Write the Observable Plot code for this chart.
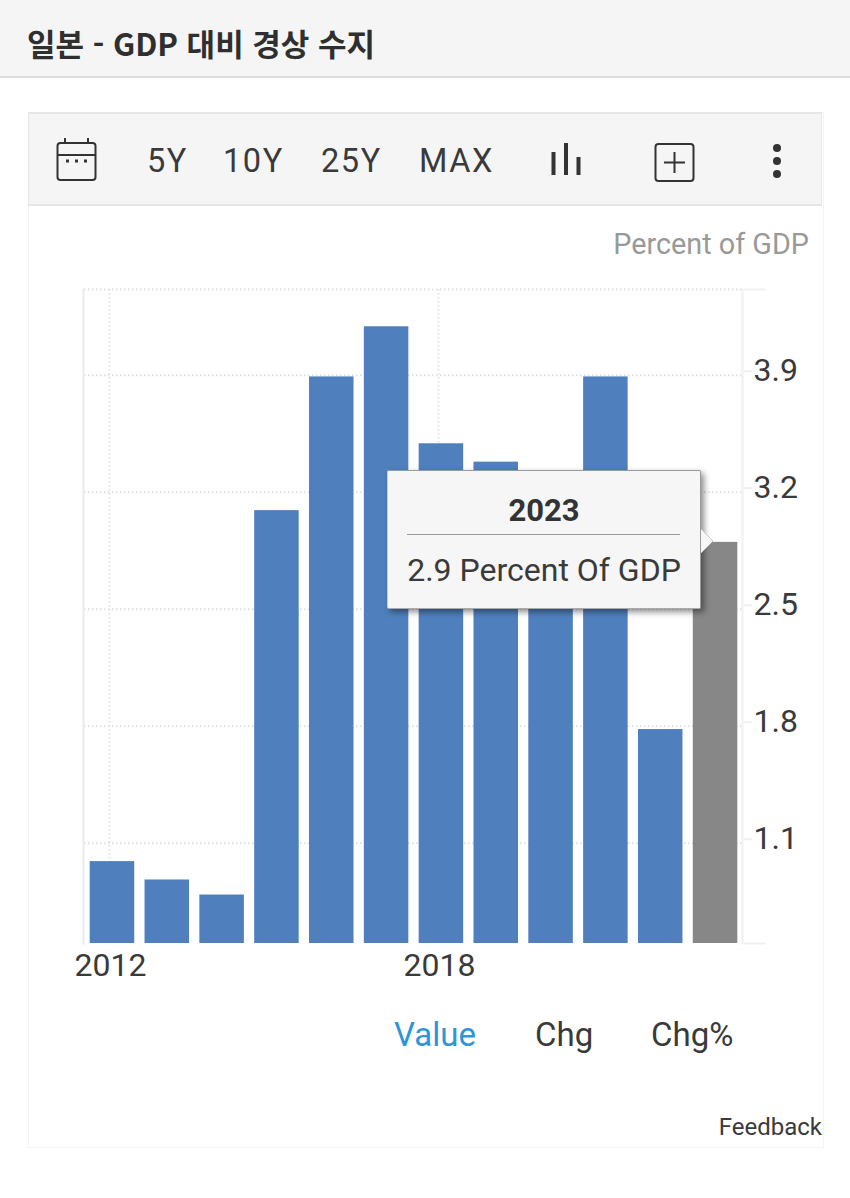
<!DOCTYPE html>
<html lang="ko">
<head>
<meta charset="utf-8">
<script src="https://cdn.jsdelivr.net/npm/d3@7"></script>
<script src="https://cdn.jsdelivr.net/npm/@observablehq/plot@0.6"></script>
<style>
html,body{margin:0;padding:0;background:#fff}
#page{position:relative;width:850px;height:1198px;overflow:hidden;background:#fff;font-family:Roboto,"Noto Sans CJK KR",sans-serif;color:#333}
.abs{position:absolute;white-space:nowrap;line-height:1}
#header{position:absolute;left:0;top:0;width:850px;height:76px;background:#f5f5f5;border-bottom:2px solid #dcdcdc}
#title{left:27px;top:24px;font-family:"Noto Sans CJK KR",sans-serif;font-weight:700;font-size:31px;color:#2f2f2f;line-height:38px}
#panel{position:absolute;left:28px;top:112px;width:794px;height:1034px;border:1px solid #f4f4f4;box-sizing:content-box}
#toolbar{position:absolute;left:28px;top:112px;width:794px;background:#f5f5f5;border:1px solid #e6e6e6;border-top-width:2px;border-bottom-width:2px;box-sizing:border-box;height:94px}
.tb{font-size:32.500px;letter-spacing:1.600px;color:#3a3a3a;top:145px}
#chart{position:absolute;left:0;top:260px}
#chart svg{display:block;background:transparent;overflow:visible}
#tip{position:absolute;left:387px;top:470px;width:314px;height:139px;background:#f6f6f6;border:1px solid #9a9a9a;border-left-color:#ccc;border-bottom-color:#aaa;box-sizing:border-box;border-radius:2px;box-shadow:3px 3px 6px rgba(0,0,0,.45)}
#arrow{position:absolute;left:700px;top:528px}
</style>
</head>
<body>
<div id="page">
  <div id="header"></div>
  <div id="title" class="abs">일본 - GDP 대비 경상 수지</div>
  <div id="panel"></div>
  <div id="toolbar"></div>
  <svg class="abs" style="left:0;top:0" width="850" height="210" fill="none" stroke="#333">
    <rect x="57.500" y="143" width="38" height="37" rx="3" stroke-width="2"/>
    <path d="M58 155H95M65 138v6M88 138v6" stroke-width="2"/>
    <path d="M66 161h3M75 161h3M84 161h3" stroke-width="3"/>
    <path d="M553.500 152v23M566 143v32M578.500 157v18" stroke-width="4"/>
    <rect x="655.500" y="144" width="38" height="37" rx="3" stroke-width="2"/>
    <path d="M674.500 152v21M664 162.500h21" stroke-width="2"/>
    <g fill="#333" stroke="none"><circle cx="777" cy="148" r="4"/><circle cx="777" cy="161" r="4"/><circle cx="777" cy="174" r="4"/></g>
  </svg>
  <div class="abs tb" style="left:147px">5Y</div>
  <div class="abs tb" style="left:223px">10Y</div>
  <div class="abs tb" style="left:321px">25Y</div>
  <div class="abs tb" style="left:419px">MAX</div>
  <div class="abs" style="right:41px;top:230px;font-size:28.800px;color:#999">Percent of GDP</div>
  <div id="chart"></div>
  <div id="tip"></div>
  <svg id="arrow" class="abs" width="16" height="28"><path d="M1 1L13 13L1 25" fill="#f6f6f6" stroke="#c8c8c8" stroke-width="1"/></svg>
  <div class="abs" style="left:387px;width:314px;text-align:center;top:495px;font-size:31px;font-weight:700;color:#333">2023</div>
  <div class="abs" style="left:407px;top:534px;width:273px;height:1px;background:#999"></div>
  <div class="abs" style="left:387px;width:314px;text-align:center;top:554px;font-size:32px;color:#3a3a3a">2.9 Percent Of GDP</div>
  <div class="abs" style="left:394px;top:1018px;font-size:33px;color:#2e96d8">Value</div>
  <div class="abs" style="left:535px;top:1018px;font-size:33px;color:#3a3a3a">Chg</div>
  <div class="abs" style="left:651px;top:1018px;font-size:33px;color:#3a3a3a">Chg%</div>
  <div class="abs" style="right:28px;top:1115px;font-size:24px;color:#3a3a3a">Feedback</div>
</div>
<script>
const years = ["2012","2013","2014","2015","2016","2017","2018","2019","2020","2021","2022","2023"];
const values = [0.99,0.88,0.79,3.09,3.89,4.19,3.49,3.38,3.0,3.89,1.78,2.9];
const selectedYear = "2023";
const xTickLabels = ["2012","2018"];
const yTicks = [1.1,1.8,2.5,3.2,3.9];
const yDomain = [0.5,4.413];
const unit = "Percent of GDP";

const rows = years.map((year,i)=>({year,value:values[i]}));
const chart = Plot.plot({
  width:850, height:730,
  marginTop:29, marginBottom:47, marginLeft:84, marginRight:107,
  style:{background:"transparent",fontFamily:"Roboto, sans-serif"},
  x:{type:"band",domain:years,round:false,paddingInner:0.188,paddingOuter:0.104,label:null},
  y:{domain:yDomain,label:null},
  marks:[
    Plot.ruleY([...yTicks,yDomain[1]],{stroke:"#e0e0e0",strokeWidth:2,strokeDasharray:"1.500,2.500"}),
    Plot.ruleX(xTickLabels,{stroke:"#e2e2e2",strokeWidth:2,strokeDasharray:"1.500,2.500",dx:-3}),
    Plot.frame({anchor:"left",stroke:"#ebebeb",strokeWidth:2,dx:-1}),
    Plot.frame({anchor:"right",stroke:"#f0f0f0",strokeWidth:2,dx:-1}),
    Plot.axisY({anchor:"right",ticks:[yDomain[0],yDomain[1]],tickSize:22,stroke:"#f0f0f0",strokeWidth:2,tickFormat:()=>"",label:null}),
    Plot.axisY({anchor:"right",ticks:yTicks,tickSize:8,stroke:"#f0f0f0",strokeWidth:2,tickPadding:2,fontSize:32,fill:"#3a3a3a",dy:-4,label:null,tickFormat:d3.format(".1f")}),
    Plot.axisX({ticks:xTickLabels,tickSize:0,tickPadding:10,fontSize:32,fill:"#3a3a3a",dx:-2,label:null}),
    Plot.barY(rows,{x:"year",y1:yDomain[0],y2:"value",fill:d=>d.year===selectedYear?"#878787":"#4f80bd"})
  ]
});
document.getElementById("chart").appendChild(chart);
</script>
</body>
</html>
